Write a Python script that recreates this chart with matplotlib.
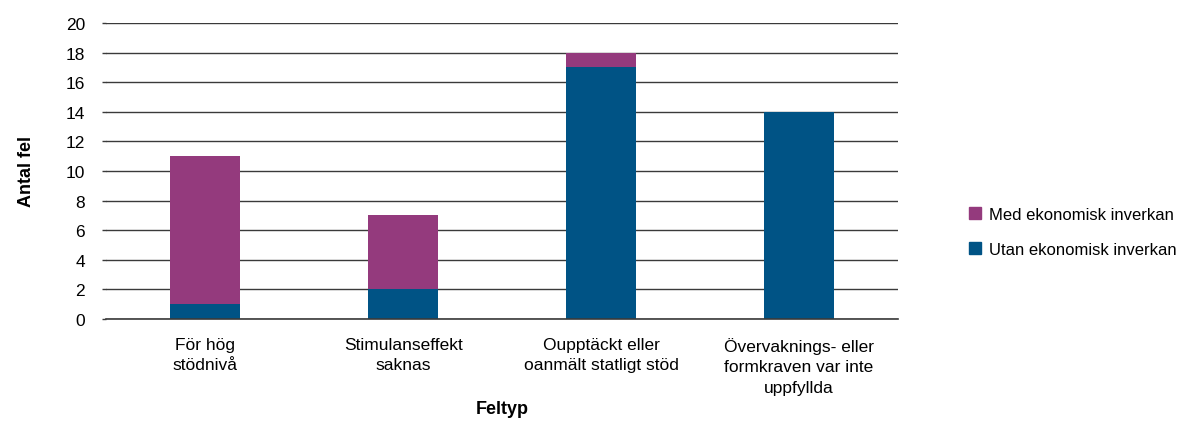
import numpy as np
import matplotlib
matplotlib.use("Agg")
import matplotlib.pyplot as plt
from matplotlib.patches import Patch

plt.rcParams['font.family'] = ['Liberation Sans', 'DejaVu Sans']

categories = ["För hög\nstödnivå", "Stimulanseffekt\nsaknas",
              "Oupptäckt eller\noanmält statligt stöd",
              "Övervaknings- eller\nformkraven var inte\nuppfyllda"]
utan = [1, 2, 17, 14]
med = [10, 5, 1, 0]
yticks = list(range(0, 21, 2))

BLUE = "#005385"
PURPLE = "#943a7d"
GRID = "#3a3a3a"

fig = plt.figure(figsize=(11.85, 4.27), dpi=100)
ax = fig.add_axes([0.0895, 0.2506, 0.6684, 0.6932])

x = np.arange(len(categories))
ax.bar(x, utan, width=0.355, color=BLUE, zorder=3)
ax.bar(x, med, width=0.355, bottom=utan, color=PURPLE, zorder=3)

ax.set_xlim(-0.5, len(categories) - 0.5)
ax.set_ylim(0, 20)
ax.set_yticks(yticks)
ax.set_yticklabels([str(v) for v in yticks], fontsize=12.5)
ax.yaxis.grid(True, color=GRID, linewidth=1.0, zorder=0)
ax.axhline(0, color=GRID, linewidth=1.2, clip_on=False, zorder=4)
ax.tick_params(axis='y', length=3, color=GRID, width=1.0, pad=12)
ax.tick_params(axis='x', length=0, pad=13)
ax.set_xticks(x)
ax.set_xticklabels(categories, fontsize=12.5, linespacing=1.45)
for s in ax.spines.values():
    s.set_visible(False)

ax.set_xlabel("Feltyp", fontsize=13, fontweight='bold', labelpad=4)
ax.set_ylabel("Antal fel", fontsize=13, fontweight='bold', labelpad=22)

handles = [Patch(color=PURPLE, label="Med ekonomisk inverkan"),
           Patch(color=BLUE, label="Utan ekonomisk inverkan")]
fig.legend(handles=handles, loc='center left', bbox_to_anchor=(0.805, 0.455),
           frameon=False, fontsize=12, handlelength=0.7, handleheight=0.7,
           handletextpad=0.5, labelspacing=1.2)

fig.savefig("out.png", dpi=100)
